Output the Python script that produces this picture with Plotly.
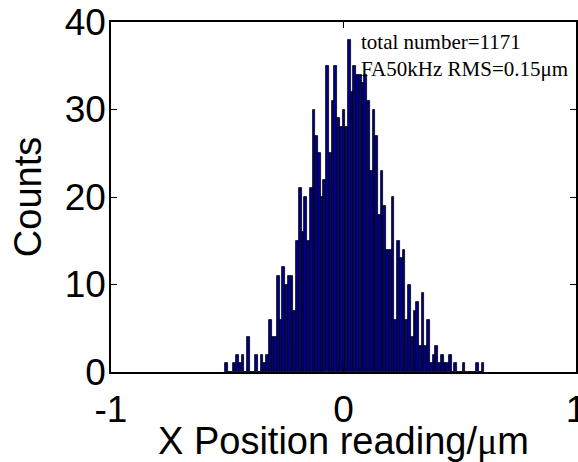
import numpy as np
import plotly.graph_objects as go

# Histogram data
bin_left = -0.509      # left edge of first bin (µm)
bin_width = 0.01174    # bin width (µm)
counts = [
    1, 0, 0, 1, 2, 1, 2, 0, 4, 0,
    0, 2, 0, 2, 1, 2, 6, 4, 4, 11,
    6, 12, 10, 11, 11, 7, 15, 21, 16, 20,
    15, 21, 30, 27, 25, 20, 22, 35, 25, 31,
    35, 29, 28, 30, 28, 38, 32, 35, 34, 34,
    33, 34, 31, 23, 30, 27, 18, 23, 19, 14,
    14, 20, 6, 15, 13, 14, 6, 10, 4, 7,
    8, 3, 9, 3, 6, 1, 2, 3, 1, 2,
    1, 1, 2, 0, 1, 0, 0, 1, 0, 0,
    0, 0, 1, 0, 1,
]
x_ticks = [-1, 0, 1]
x_tick_text = ["-1", "0", "1"]
y_ticks = [0, 10, 20, 30, 40]
annot_lines = ["total number=1171", "FA50kHz RMS=0.15μm"]
x_title = "X Position reading/<span style='font-family:Liberation Serif'>μ</span>m"

centers = bin_left + (np.arange(len(counts)) + 0.5) * bin_width

fig = go.Figure()
fig.add_trace(go.Bar(
    x=centers, y=counts, width=bin_width,
    marker=dict(color="rgb(0,0,140)", line=dict(color="black", width=0.8)),
    showlegend=False,
))

axis_common = dict(
    showline=True, linecolor="black", linewidth=1.5, mirror="allticks",
    ticks="inside", ticklen=6, tickwidth=1, tickcolor="black",
    showgrid=False, zeroline=False,
    tickfont=dict(family="Liberation Sans, Arial", size=37, color="black"),
    ticklabeloverflow="allow",
    automargin=False,
)

fig.update_layout(
    width=578, height=462,
    margin=dict(l=111, r=2, t=22, b=90, autoexpand=False),
    paper_bgcolor="white", plot_bgcolor="white",
    bargap=0,
    xaxis=dict(
        range=[-1, 1], tickvals=x_ticks, ticktext=x_tick_text,
        ticklabelstandoff=4,
        **axis_common,
    ),
    yaxis=dict(
        range=[0, 40], tickvals=y_ticks,
        ticklabelstandoff=-4,
        title=dict(text="Counts",
                   font=dict(family="Liberation Sans, Arial", size=38, color="black"),
                   standoff=11),
        **axis_common,
    ),
    annotations=[
        dict(
            x=0.066, y=39.3, xref="x", yref="y", xanchor="left", yanchor="top",
            text="<br>".join(annot_lines), showarrow=False, align="left",
            font=dict(family="Liberation Serif, Times New Roman", size=21, color="black"),
        ),
        dict(
            x=0.5, y=-0.131, xref="paper", yref="paper", xanchor="center", yanchor="top",
            text=x_title, showarrow=False,
            font=dict(family="Liberation Sans, Arial", size=38, color="black"),
        ),
    ],
)

fig.write_html("out.html")
